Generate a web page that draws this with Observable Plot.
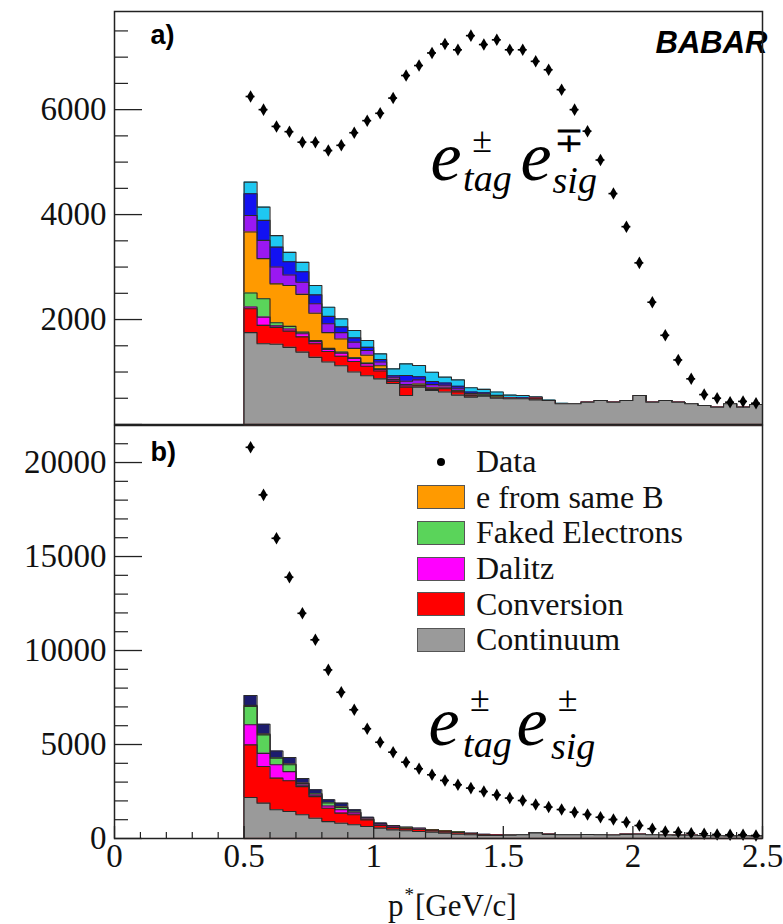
<!DOCTYPE html>
<html>
<head>
<meta charset="utf-8">
<script src="https://cdn.jsdelivr.net/npm/d3@7"></script>
<script src="https://cdn.jsdelivr.net/npm/@observablehq/plot@0.6"></script>
<style>
  body { margin: 0; background: #fff; }
  #wrap { position: relative; width: 783px; height: 924px; overflow: hidden; background: #fff; }
  #bot { position: absolute; left: 0; top: 424px; }
  #top { position: absolute; left: 0; top: 0; }
  #legend { position: absolute; left: 417px; top: 444px; font-family: "Liberation Serif", "Times New Roman", serif; font-size: 32px; color: #111; }
  .row { display: flex; align-items: center; height: 35.6px; }
  .sw { width: 46px; height: 22px; border: 1px solid #555; margin-right: 11px; }
  .dotbox { width: 48px; margin-right: 11px; display: flex; justify-content: center; }
  .dot { width: 8px; height: 8px; border-radius: 50%; background: #000; }
  #xlabel { position: absolute; left: 388px; top: 883px; font-family: "Liberation Serif", "Times New Roman", serif; font-size: 31px; line-height: 31px; color: #111; white-space: nowrap; }
  #xlabel sup { font-size: 19px; position: relative; top: -4px; margin: 0 1px; }
</style>
</head>
<body>
<div id="wrap">
  <div id="bot"></div>
  <div id="top"></div>
  <div id="legend"></div>
  <div id="xlabel">p<sup>*</sup>[GeV/c]</div>
</div>
<script>
// ---------------- data ----------------
const pEdges = [0.50,0.55,0.60,0.65,0.70,0.75,0.80,0.85,0.90,0.95,1.00,1.05,1.10,1.15,1.20,1.25,1.30,1.35,1.40,1.45,1.50,1.55,1.60,1.65,1.70,1.75,1.80,1.85,1.90,1.95,2.00,2.05,2.10,2.15,2.20,2.25,2.30,2.35,2.40,2.45,2.50];

// panel a) e±tag e∓sig
const topData = [6250,6000,5680,5580,5380,5380,5220,5320,5560,5790,5930,6220,6650,6840,7080,7250,7140,7410,7240,7330,7140,7140,6920,6760,6380,6000,5590,5040,4400,3770,3080,2330,1700,1230,870,570,500,425,440,405];
const topContinuum  = [1750,1540,1530,1470,1380,1280,1190,1120,1000,930,870,780,553,711,650,620,560,520,540,500,490,490,470,457,394,394,425,457,425,457,552,425,457,425,394,362,330,394,330,380];
const topConversion = [457,349,320,310,290,260,200,180,200,180,150,40,160,20,20,60,60,20,10,10,10,5,30,0,0,0,0,0,0,0,0,0,0,0,0,0,0,0,0,0];
const topDalitz     = [31,158,30,40,60,40,40,60,60,50,30,10,20,10,10,10,10,10,5,5,0,0,0,0,0,0,0,0,0,0,0,0,0,0,0,0,0,0,0,0];
const topFaked      = [267,350,60,50,30,20,20,20,10,10,10,10,10,10,10,10,10,5,5,5,0,0,0,0,0,0,0,0,0,0,0,0,0,0,0,0,0,0,0,0];
const topSameB      = [1162,763,740,780,720,520,300,250,180,150,60,20,20,20,10,10,10,5,5,5,0,0,0,0,0,0,0,0,0,0,0,0,0,0,0,0,0,0,0,0];
const topOtherPurple= [317,348,320,200,230,180,170,120,120,90,70,40,60,80,60,40,40,30,20,10,5,5,5,0,0,0,0,0,0,0,0,0,0,0,0,0,0,0,0,0];
const topOtherBlue  = [413,381,380,250,200,170,140,110,80,60,50,30,110,60,60,40,40,30,20,20,10,10,5,0,0,0,0,0,0,0,0,0,0,0,0,0,0,0,0,0];
const topOtherCyan  = [222,254,220,180,180,178,175,153,141,130,106,130,223,213,177,112,120,80,65,65,45,42,20,10,10,5,0,0,0,0,0,0,0,0,0,0,0,0,0,0];

// panel b) e±tag e±sig
const botData = [20810,18280,15970,13900,11980,10570,8970,7780,6850,5840,5120,4590,4060,3710,3390,3090,2860,2680,2500,2320,2150,2020,1810,1670,1540,1400,1280,1130,1010,870,690,520,370,335,280,250,215,200,200,160];
const botContinuum  = [2180,1880,1530,1440,1260,1080,900,810,730,640,550,460,410,370,340,285,230,200,160,160,180,200,300,220,200,200,210,200,190,220,230,200,190,180,170,160,150,140,150,140];
const botConversion = [2800,1950,1680,1630,1500,1150,710,540,530,350,140,120,100,110,70,70,80,50,40,20,20,10,20,10,10,0,0,0,0,0,0,0,0,0,0,0,0,0,0,0];
const botDalitz     = [1070,700,710,490,80,80,120,180,100,30,30,30,20,15,10,10,10,5,5,5,0,0,0,0,0,0,0,0,0,0,0,0,0,0,0,0,0,0,0,0];
const botFaked      = [970,980,350,360,80,60,160,120,30,20,20,20,20,15,10,10,10,5,5,5,0,0,0,0,0,0,0,0,0,0,0,0,0,0,0,0,0,0,0,0];
const botSameB      = [60,40,30,30,20,20,20,20,10,10,10,10,10,5,5,5,5,5,5,0,0,0,0,0,0,0,0,0,0,0,0,0,0,0,0,0,0,0,0,0];
const botOtherNavy  = [530,530,355,355,250,200,150,210,130,80,70,50,45,35,35,45,35,20,15,10,0,0,0,0,0,0,0,0,0,0,0,0,0,0,0,0,0,0,0,0];

// axis ticks
const xMajorTicks = [0, 0.5, 1, 1.5, 2, 2.5];
const xMinorTicks = [0.1,0.2,0.3,0.4,0.6,0.7,0.8,0.9,1.1,1.2,1.3,1.4,1.6,1.7,1.8,1.9,2.1,2.2,2.3,2.4];
const topYMajor = [0, 2000, 4000, 6000];
const topYLabels = [2000, 4000, 6000];
const topYMinor = [500,1000,1500,2500,3000,3500,4500,5000,5500,6500,7000,7500];
const botYMajor = [0, 5000, 10000, 15000, 20000];
const botYMinor = [1000,2000,3000,4000,6000,7000,8000,9000,11000,12000,13000,14000,16000,17000,18000,19000,21000];

const legendItems = ["e from same B", "Faked Electrons", "Dalitz", "Conversion", "Continuum"];

// colours
const C = {
  continuum: "#9a9a9a", conversion: "#ff0000", dalitz: "#ff00ff", faked: "#5ad45a",
  sameB: "#ff9a00", purple: "#9a18f2", blue: "#1212f2", cyan: "#1ec8f2", navy: "#1c1c6e"
};
const legendColors = [C.sameB, C.faked, C.dalitz, C.conversion, C.continuum];

// ---------------- helpers ----------------
const W = 783, ML = 114, MR = 21;
const frameW = W - ML - MR;
const SERIF = "'Liberation Serif', 'Times New Roman', serif";
const SANS = "'Liberation Sans', Arial, sans-serif";

function histMarks(comps, colors) {
  let cum = comps[0].map(() => 0);
  const layers = comps.map((vals, k) => {
    cum = cum.map((c, i) => c + vals[i]);
    const pts = cum.map((c, i) => ({x: pEdges[i], y: c}));
    pts.push({x: pEdges[pEdges.length - 1], y: cum[cum.length - 1]});
    return {pts, outline: [{x: pEdges[0], y: 0}, ...pts], color: colors[k]};
  });
  const marks = [];
  for (const L of layers.slice().reverse()) {
    marks.push(Plot.areaY(L.pts, {x: "x", y: "y", curve: "step-after", fill: L.color}));
    marks.push(Plot.lineY(L.outline, {x: "x", y: "y", curve: "step-after", stroke: "#2a2a2a", strokeWidth: 1.1}));
  }
  marks.push(Plot.ruleY([0], {x1: pEdges[0], x2: pEdges[pEdges.length - 1], stroke: "#8a4a4a", strokeWidth: 1.5}));
  return marks;
}

function dataMarks(vals) {
  const pts = vals.map((v, i) => ({lo: pEdges[i], hi: pEdges[i + 1], x: (pEdges[i] + pEdges[i + 1]) / 2, y: v}));
  return [
    Plot.ruleY(pts, {y: "y", x1: "lo", x2: "hi", insetLeft: 2, insetRight: 2, stroke: "#000", strokeWidth: 1.6}),
    Plot.dot(pts, {x: "x", y: "y", symbol: "diamond", r: 3.8, fill: "#000", stroke: "none"})
  ];
}

function formula(xs, yE, ySup, ySub, sup1, sub1, sup2, sub2) {
  const t = (x, y, s, size, italic, anchor) => Plot.text([s], {x: () => x, y: () => y, text: d => d, fontSize: size, fontFamily: SERIF, fontStyle: italic ? "italic" : "normal", textAnchor: anchor, lineAnchor: "bottom", fill: "#000"});
  return [
    t(xs[0], yE, "e", 70, true, "start"),
    t(xs[1], ySup, sup1, 36, false, "middle"),
    t(xs[2], ySub[0], sub1, 38, true, "start"),
    t(xs[3], yE, "e", 70, true, "start"),
    t(xs[4], ySup, sup2, 36, false, "middle"),
    t(xs[5], ySub[1], sub2, 38, true, "start")
  ];
}

// ---------------- panel a ----------------
const topH = 426, topMT = 11, topMB = 2;
const topPlot = Plot.plot({
  width: W, height: topH,
  marginLeft: ML, marginRight: MR, marginTop: topMT, marginBottom: topMB,
  style: {background: "transparent", fontFamily: SERIF, fontSize: "33px", color: "#111"},
  x: {domain: [0, 2.5], axis: null},
  y: {domain: [0, 7870], axis: null},
  marks: [
    ...histMarks([topContinuum, topConversion, topDalitz, topFaked, topSameB, topOtherPurple, topOtherBlue, topOtherCyan],
                 [C.continuum, C.conversion, C.dalitz, C.faked, C.sameB, C.purple, C.blue, C.cyan]),
    ...dataMarks(topData),
    Plot.tickY(topYMajor, {y: d => d, insetRight: frameW - 28, stroke: "#222", strokeWidth: 1.3}),
    Plot.tickY(topYMinor, {y: d => d, insetRight: frameW - 14, stroke: "#222", strokeWidth: 1.2}),
    Plot.axisY(topYLabels, {anchor: "left", label: null, tickSize: 0, tickPadding: 8, tickFormat: d => String(d), fontSize: 33, fontFamily: SERIF}),
    ...formula([1.219, 1.418, 1.345, 1.566, 1.755, 1.690], 4650, 5200, [4450, 4420], "\u00b1", "tag", "\u2213", "sig"),
    Plot.text(["a)"], {frameAnchor: "top-left", dx: 36, dy: 13, text: d => d, fontSize: 27, fontWeight: "bold", fontFamily: SANS, textAnchor: "start", lineAnchor: "top", fill: "#000"}),
    Plot.text(["BABAR"], {frameAnchor: "top-right", dx: 5, dy: 19, text: d => d, fontSize: 31, fontWeight: "bold", fontStyle: "italic", fontFamily: SANS, textAnchor: "end", lineAnchor: "top", fill: "#000"}),
    Plot.frame({stroke: "#222", strokeWidth: 1.5})
  ]
});
document.getElementById("top").appendChild(topPlot);

// ---------------- panel b ----------------
const botH = 500, botMT = 1, botMB = 86;
const botFrameH = botH - botMT - botMB;
const botPlot = Plot.plot({
  width: W, height: botH,
  marginLeft: ML, marginRight: MR, marginTop: botMT, marginBottom: botMB,
  style: {background: "transparent", fontFamily: SERIF, fontSize: "33px", color: "#111"},
  x: {domain: [0, 2.5], axis: null},
  y: {domain: [0, 21970], axis: null},
  marks: [
    ...histMarks([botContinuum, botConversion, botDalitz, botFaked, botSameB, botOtherNavy],
                 [C.continuum, C.conversion, C.dalitz, C.faked, C.sameB, C.navy]),
    ...dataMarks(botData),
    Plot.tickY(botYMajor, {y: d => d, insetRight: frameW - 28, stroke: "#222", strokeWidth: 1.3}),
    Plot.tickY(botYMinor, {y: d => d, insetRight: frameW - 14, stroke: "#222", strokeWidth: 1.2}),
    Plot.tickX(xMajorTicks, {x: d => d, insetTop: botFrameH - 12, stroke: "#222", strokeWidth: 1.3}),
    Plot.tickX(xMinorTicks, {x: d => d, insetTop: botFrameH - 6, stroke: "#222", strokeWidth: 1.2}),
    Plot.axisY(botYMajor, {anchor: "left", label: null, tickSize: 0, tickPadding: 8, tickFormat: d => String(d), fontSize: 33, fontFamily: SERIF}),
    Plot.axisX(xMajorTicks, {anchor: "bottom", label: null, tickSize: 0, tickPadding: 5, tickFormat: d => String(d), fontSize: 33, fontFamily: SERIF}),
    ...formula([1.211, 1.410, 1.345, 1.551, 1.748, 1.684], 5000, 6800, [4350, 4250], "\u00b1", "tag", "\u00b1", "sig"),
    Plot.text(["b)"], {frameAnchor: "top-left", dx: 36, dy: 16, text: d => d, fontSize: 27, fontWeight: "bold", fontFamily: SANS, textAnchor: "start", lineAnchor: "top", fill: "#000"}),
    Plot.frame({stroke: "#222", strokeWidth: 1.5})
  ]
});
document.getElementById("bot").appendChild(botPlot);

// ---------------- legend ----------------
const leg = document.getElementById("legend");
{
  const r = document.createElement("div"); r.className = "row";
  r.innerHTML = '<div class="dotbox"><div class="dot"></div></div><span>Data</span>';
  leg.appendChild(r);
}
legendItems.forEach((name, i) => {
  const r = document.createElement("div"); r.className = "row";
  const sw = document.createElement("div"); sw.className = "sw"; sw.style.background = legendColors[i];
  const tx = document.createElement("span"); tx.textContent = name;
  r.appendChild(sw); r.appendChild(tx);
  leg.appendChild(r);
});
</script>
</body>
</html>
